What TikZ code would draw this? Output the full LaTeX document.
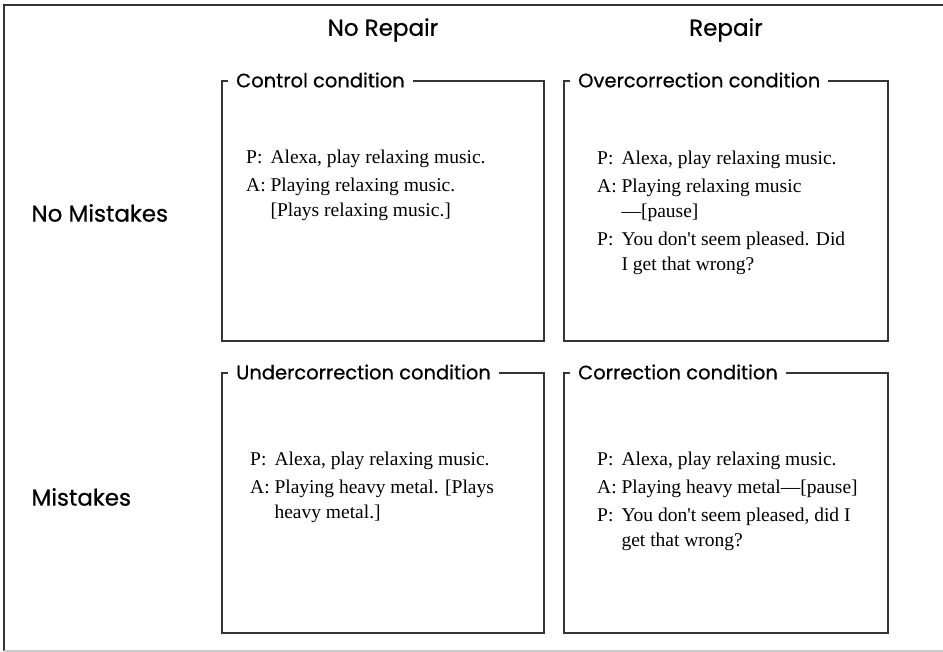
\documentclass[tikz,border=0pt]{standalone}
\usepackage{fontspec}
\setmainfont{Liberation Serif}
\newfontfamily\headfont[FakeBold=0.6]{Poppins}
\definecolor{framecol}{RGB}{50,55,50}
\begin{document}
\begin{tikzpicture}[x=1pt,y=-1pt,
  box/.style={draw=framecol, line width=1.6pt, anchor=north west, inner sep=0pt,
              minimum width=322pt, minimum height=260pt},
  boxtitle/.style={anchor=west, fill=white, inner xsep=8pt, inner ysep=1pt,
                   font=\headfont\fontsize{19.5}{22}\selectfont},
  header/.style={font=\headfont\fontsize{23}{26}\selectfont},
  dialog/.style={anchor=base west, inner sep=0pt,
                 font=\fontsize{19.5}{25}\selectfont}]
\useasboundingbox (0,0) rectangle (943,652);
% outer frame
\draw[framecol, line width=2.5pt] (943,5) -- (4,5) -- (4,651);
\draw[black!20, line width=1.5pt] (4,651) -- (943,651);
% headers
\node[header] (hnorep) at (383,30) {No Repair};
\node[header] (hrep) at (726,30) {Repair};
\node[header, anchor=west] (hnomis) at (28,213) {No Mistakes};
\node[header, anchor=west] (hmis) at (28,497) {Mistakes};
% boxes
\node[box] (ctrl) at (221,80) {};
\node[box, minimum width=324pt] (over) at (563,80) {};
\node[box] (under) at (221,372) {};
\node[box, minimum width=324pt] (corr) at (563,372) {};
% titles
\node[boxtitle] (tctrl) at ([xshift=7pt]ctrl.north west) {Control condition};
\node[boxtitle] (tover) at ([xshift=7pt]over.north west) {Overcorrection condition};
\node[boxtitle] (tunder) at ([xshift=7pt]under.north west) {Undercorrection condition};
\node[boxtitle] (tcorr) at ([xshift=7pt]corr.north west) {Correction condition};
% dialogue texts
\node[dialog] (dctrl) at (246,164) {\begin{tabular}[t]{@{}l@{\space}l@{}}
P: & Alexa, play relaxing music.\\[3pt]
A: & Playing relaxing music.\\
   & [Plays relaxing music.]
\end{tabular}};
\node[dialog] (dover) at (597,165) {\begin{tabular}[t]{@{}l@{\space}l@{}}
P: & Alexa, play relaxing music.\\[3pt]
A: & Playing relaxing music\\
   & ---[pause]\\[3pt]
P: & You don\textquotesingle t seem pleased. Did\\
   & I get that wrong?
\end{tabular}};
\node[dialog] (dunder) at (250,465) {\begin{tabular}[t]{@{}l@{\space}l@{}}
P: & Alexa, play relaxing music.\\[3pt]
A: & Playing heavy metal. [Plays\\
   & heavy metal.]
\end{tabular}};
\node[dialog] (dcorr) at (597,465) {\begin{tabular}[t]{@{}l@{\space}l@{}}
P: & Alexa, play relaxing music.\\[3pt]
A: & Playing heavy metal---[pause]\\[3pt]
P: & You don\textquotesingle t seem pleased, did I\\
   & get that wrong?
\end{tabular}};
\end{tikzpicture}
\end{document}
